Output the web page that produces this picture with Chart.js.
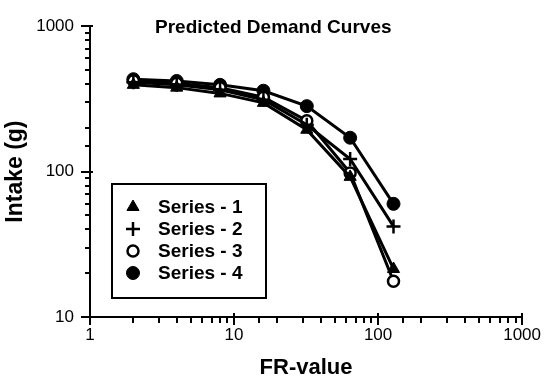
<!DOCTYPE html>
<html>
<head>
<meta charset="utf-8">
<script src="https://cdn.jsdelivr.net/npm/chart.js@4.4.0/dist/chart.umd.min.js"></script>
<style>
  body { margin: 0; background: #fff; }
  #wrap { width: 549px; height: 379px; }
</style>
</head>
<body>
<div id="wrap"><canvas id="demandChart" width="549" height="379"></canvas></div>
<script>
// FR values (x) and predicted intake for each series (y, grams)
var frValues = [2, 4, 8, 16, 32, 64, 128];
var series1 = [395, 378, 345, 297, 194, 92, 21.4];
var series2 = [412, 395, 365, 312, 210, 122, 42];
var series3 = [422, 405, 378, 325, 224, 98, 17.6];
var series4 = [432, 420, 395, 360, 282, 171, 60];
var seriesNames = ['Series - 1', 'Series - 2', 'Series - 3', 'Series - 4'];
var xTickValues = [1, 10, 100, 1000];
var yTickValues = [10, 100, 1000];

var FONT = '"Liberation Sans", Arial, Helvetica, sans-serif';

function toPoints(vals) {
  let pts = [];
  for (let i = 0; i < frValues.length; i++) {
    pts.push({ x: frValues[i], y: vals[i] });
  }
  return pts;
}

function isDecade(v) {
  let l = Math.log10(v);
  return Math.abs(l - Math.round(l)) < 1e-9;
}

// title, minor/major ticks and the boxed legend
var extras = {
  id: 'extras',
  afterDraw: function(chart) {
    let ctx = chart.ctx;
    let xs = chart.scales.x;
    let ys = chart.scales.y;
    let area = chart.chartArea;
    ctx.save();
    ctx.strokeStyle = '#000';
    ctx.lineWidth = 2;
    ctx.beginPath();
    xs.ticks.forEach(function(t) {
      let px = Math.round(xs.getPixelForValue(t.value));
      if (isDecade(t.value)) {
        ctx.moveTo(px, area.bottom - 4);
        ctx.lineTo(px, area.bottom + 8);
      } else {
        ctx.moveTo(px, area.bottom);
        ctx.lineTo(px, area.bottom + 6);
      }
    });
    ys.ticks.forEach(function(t) {
      let py = Math.round(ys.getPixelForValue(t.value));
      if (isDecade(t.value)) {
        ctx.moveTo(area.left - 9, py);
        ctx.lineTo(area.left + 3, py);
      } else {
        ctx.moveTo(area.left - 5, py);
        ctx.lineTo(area.left, py);
      }
    });
    ctx.stroke();

    // title
    ctx.fillStyle = '#000';
    ctx.font = 'bold 19px ' + FONT;
    ctx.textAlign = 'left';
    ctx.textBaseline = 'alphabetic';
    ctx.fillText('Predicted Demand Curves', 155, 33);

    // legend box
    ctx.lineWidth = 2;
    ctx.strokeRect(112, 184, 154, 114);
    let rowY = [207, 229, 251, 273];
    chart.data.datasets.forEach(function(ds, i) {
      ctx.fillStyle = ds.pointBackgroundColor;
      ctx.strokeStyle = ds.pointBorderColor;
      ctx.lineWidth = ds.pointBorderWidth;
      Chart.helpers.drawPoint(ctx, {
        pointStyle: ds.pointStyle,
        radius: ds.pointRadius,
        borderWidth: ds.pointBorderWidth,
        rotation: 0
      }, 133, rowY[i]);
      ctx.fillStyle = '#000';
      ctx.font = 'bold 19px ' + FONT;
      ctx.textBaseline = 'middle';
      ctx.fillText(ds.label, 158, rowY[i] + 1);
    });
    ctx.restore();
  }
};

function makeSet(label, vals, style, radius, fill, bw) {
  return {
    label: label,
    data: toPoints(vals),
    borderColor: '#000',
    borderWidth: 3,
    tension: 0,
    pointStyle: style,
    pointRadius: radius,
    pointHoverRadius: radius,
    pointBackgroundColor: fill,
    pointBorderColor: '#000',
    pointBorderWidth: bw
  };
}

new Chart(document.getElementById('demandChart').getContext('2d'), {
  type: 'line',
  data: {
    datasets: [
      makeSet(seriesNames[0], series1, 'triangle', 7, '#000', 1),
      makeSet(seriesNames[1], series2, 'cross', 7, '#000', 2.5),
      makeSet(seriesNames[2], series3, 'circle', 5.5, '#fff', 2.5),
      makeSet(seriesNames[3], series4, 'circle', 6.5, '#000', 1)
    ]
  },
  options: {
    responsive: false,
    animation: false,
    layout: { padding: { left: 0, right: 18, top: 15, bottom: 0 } },
    plugins: { legend: { display: false }, tooltip: { enabled: false } },
    scales: {
      x: {
        type: 'logarithmic',
        min: 1,
        max: 1000,
        afterFit: function(s) { s.height = 62; },
        grid: { display: false, drawTicks: false },
        border: { display: true, color: '#000', width: 2 },
        ticks: {
          autoSkip: false,
          maxRotation: 0,
          padding: 8,
          color: '#000',
          font: { family: FONT, size: 17 },
          callback: function(v) { return xTickValues.indexOf(v) >= 0 ? String(v) : ''; }
        },
        title: {
          display: true,
          text: 'FR-value',
          color: '#000',
          font: { family: FONT, size: 22, weight: 'bold', lineHeight: 1.1 },
          padding: { top: 0, bottom: -1 }
        }
      },
      y: {
        type: 'logarithmic',
        min: 10,
        max: 1000,
        afterFit: function(s) { s.width = 90; },
        grid: { display: false, drawTicks: false },
        border: { display: true, color: '#000', width: 2 },
        ticks: {
          autoSkip: false,
          padding: 16,
          color: '#000',
          font: { family: FONT, size: 17 },
          callback: function(v) { return yTickValues.indexOf(v) >= 0 ? String(v) : ''; }
        },
        title: {
          display: true,
          text: 'Intake (g)',
          color: '#000',
          font: { family: FONT, size: 23, weight: 'bold', lineHeight: 1.1 },
          padding: { top: 3, bottom: 0 }
        }
      }
    }
  },
  plugins: [extras]
});
</script>
</body>
</html>
